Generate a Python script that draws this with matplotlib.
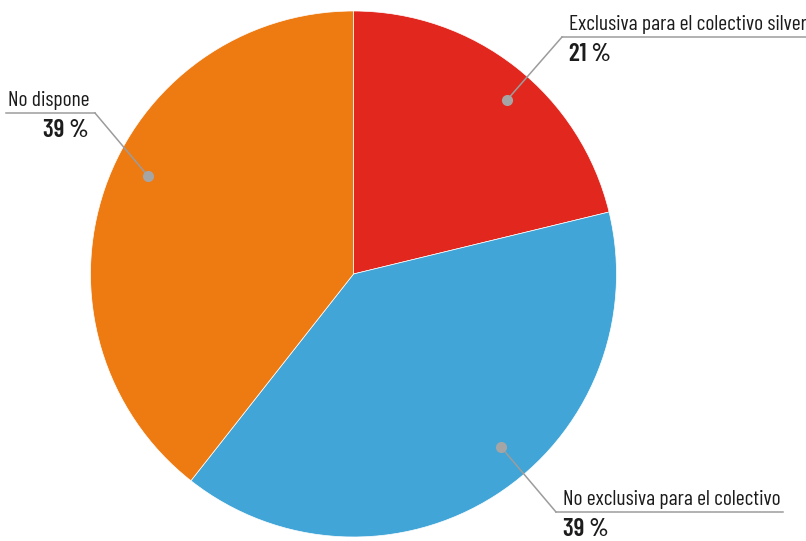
import matplotlib
matplotlib.use("Agg")
import matplotlib.pyplot as plt

labels = ["Exclusiva para el colectivo silver", "No exclusiva para el colectivo", "No dispone"]
values = [21, 39, 39]
colors = ["#E2271E", "#41A5D7", "#EE7A12"]

W, H = 806, 541
plt.rcParams["font.family"] = ["Barlow Condensed", "DejaVu Sans"]

fig = plt.figure(figsize=(W / 100, H / 100), dpi=100)
ax = fig.add_axes([0, 0, 1, 1])

center = (353.5, 267)
radius = 263
wedges, _ = ax.pie(values, colors=colors, startangle=90, counterclock=False,
                   center=center, radius=radius, frame=True,
                   wedgeprops={"linewidth": 0.5, "edgecolor": "white"})
ax.set_xlim(0, W)
ax.set_ylim(0, H)
ax.set_aspect("equal")
ax.axis("off")

# leader layout in pixels from the top-left: dot, elbow, text side
leaders = [((507, 100), (562, 37), "right"),
           ((501, 447), (556, 512), "right"),
           ((148, 176), (95, 113), "left")]
line_col = "#9c9c9c"
text_col = "#1c1c1c"

fig.canvas.draw()
renderer = fig.canvas.get_renderer()

for lab, val, ((px, py), (ex, ey), side) in zip(labels, values, leaders):
    py, ey = H - py, H - ey
    ax.plot([px, ex], [py, ey], color=line_col, lw=1.1, zorder=5)
    ax.plot(px, py, "o", color="#a5a5a5", ms=8, mew=0, zorder=6)
    if side == "right":
        tx, ha = ex + 7, "left"
    else:
        tx, ha = ex - 6, "right"
    t = ax.text(tx, ey + 7, lab, ha=ha, va="baseline", fontsize=15.5,
                fontweight="normal", color=text_col)
    ax.text(tx, ey - 6, f"{val} %", ha=ha, va="top", fontsize=18,
            fontweight="semibold", color=text_col)
    bb = t.get_window_extent(renderer)
    if side == "right":
        ax.plot([ex, bb.x1 + 2], [ey, ey], color=line_col, lw=1.1)
    else:
        ax.plot([bb.x0 - 2, ex], [ey, ey], color=line_col, lw=1.1)

fig.savefig("out.png", dpi=100)
